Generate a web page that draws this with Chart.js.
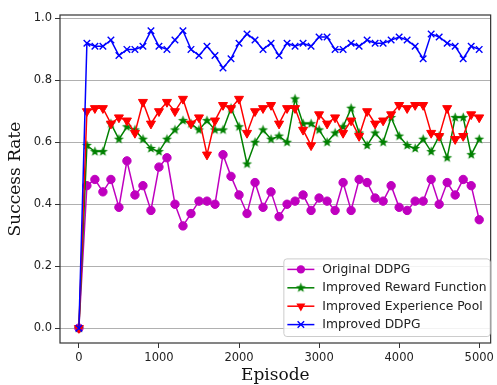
<!DOCTYPE html>
<html>
<head>
<meta charset="utf-8">
<script src="https://cdn.jsdelivr.net/npm/chart.js@4.4.1/dist/chart.umd.min.js"></script>
<style>
html, body { margin: 0; padding: 0; background: #fff; }
#wrap { width: 497px; height: 385px; }
</style>
</head>
<body>
<div id="wrap"><canvas id="SuccessChart" width="497" height="385"></canvas></div>
<script>
var episodes = [0, 100, 200, 300, 400, 500, 600, 700, 800, 900, 1000,
    1100, 1200, 1300, 1400, 1500, 1600, 1700, 1800, 1900, 2000,
    2100, 2200, 2300, 2400, 2500, 2600, 2700, 2800, 2900, 3000,
    3100, 3200, 3300, 3400, 3500, 3600, 3700, 3800, 3900, 4000,
    4100, 4200, 4300, 4400, 4500, 4600, 4700, 4800, 4900, 5000];

var originalDDPG = [0, 0.46, 0.48, 0.44, 0.48, 0.39, 0.54, 0.43, 0.46, 0.38, 0.52,
    0.55, 0.40, 0.33, 0.37, 0.41, 0.41, 0.40, 0.56, 0.49, 0.43,
    0.37, 0.47, 0.39, 0.44, 0.36, 0.40, 0.41, 0.43, 0.38, 0.42,
    0.41, 0.38, 0.47, 0.38, 0.48, 0.47, 0.42, 0.41, 0.46, 0.39,
    0.38, 0.41, 0.41, 0.48, 0.40, 0.47, 0.43, 0.48, 0.46, 0.35];

var improvedReward = [0, 0.59, 0.57, 0.57, 0.66, 0.61, 0.65, 0.64, 0.61, 0.58, 0.57,
    0.61, 0.64, 0.67, 0.66, 0.64, 0.67, 0.64, 0.64, 0.71, 0.65,
    0.53, 0.60, 0.64, 0.61, 0.62, 0.60, 0.74, 0.66, 0.66, 0.64,
    0.60, 0.63, 0.65, 0.71, 0.63, 0.59, 0.63, 0.60, 0.68, 0.62,
    0.59, 0.58, 0.61, 0.57, 0.62, 0.55, 0.68, 0.68, 0.56, 0.61];

var improvedPool = [0, 0.70, 0.71, 0.71, 0.66, 0.68, 0.67, 0.63, 0.73, 0.66, 0.70,
    0.73, 0.70, 0.74, 0.66, 0.68, 0.56, 0.67, 0.72, 0.71, 0.74,
    0.63, 0.70, 0.71, 0.72, 0.66, 0.71, 0.71, 0.64, 0.59, 0.69,
    0.66, 0.68, 0.63, 0.67, 0.62, 0.70, 0.66, 0.67, 0.69, 0.72,
    0.71, 0.72, 0.72, 0.63, 0.62, 0.71, 0.61, 0.62, 0.69, 0.68];

var improvedDDPG = [0, 0.92, 0.91, 0.91, 0.93, 0.88, 0.90, 0.90, 0.91, 0.96, 0.91,
    0.90, 0.93, 0.96, 0.90, 0.88, 0.91, 0.88, 0.84, 0.87, 0.92,
    0.95, 0.93, 0.90, 0.92, 0.88, 0.92, 0.91, 0.92, 0.91, 0.94,
    0.94, 0.90, 0.90, 0.92, 0.91, 0.93, 0.92, 0.92, 0.93, 0.94,
    0.93, 0.91, 0.87, 0.95, 0.94, 0.92, 0.91, 0.87, 0.91, 0.90];

var seriesNames = ['Original DDPG', 'Improved Reward Function', 'Improved Experience Pool', 'Improved DDPG'];
var xTicks = [0, 1000, 2000, 3000, 4000, 5000];
var yTicks = [0.0, 0.2, 0.4, 0.6, 0.8, 1.0];

// matplotlib style filled star marker
function makeStar(color, r) {
    var c = document.createElement('canvas');
    var s = Math.ceil(r * 2 + 2);
    c.width = s;
    c.height = s;
    var g = c.getContext('2d');
    g.beginPath();
    for (var i = 0; i < 10; i++) {
        var rad = i % 2 === 0 ? r : r * 0.42;
        var a = -Math.PI / 2 + i * Math.PI / 5;
        g.lineTo(s / 2 + rad * Math.cos(a), s / 2 + rad * Math.sin(a));
    }
    g.closePath();
    g.fillStyle = color;
    g.fill();
    return c;
}
var greenStar = makeStar('#008000', 5.2);

function toPoints(vals) {
    return vals.map(function (v, i) { return { x: episodes[i], y: v }; });
}

var styles = [
    { color: '#bf00bf', pointStyle: 'circle', radius: 4.2, rotation: 0 },
    { color: '#008000', pointStyle: greenStar, radius: 5, rotation: 0 },
    { color: '#ff0000', pointStyle: 'triangle', radius: 5.2, rotation: 180 },
    { color: '#0000ff', pointStyle: 'crossRot', radius: 4.6, rotation: 0 }
];
var allSeries = [originalDDPG, improvedReward, improvedPool, improvedDDPG];

var datasets = allSeries.map(function (vals, i) {
    var st = styles[i];
    return {
        label: seriesNames[i],
        data: toPoints(vals),
        borderColor: st.color,
        backgroundColor: st.color,
        borderWidth: 1.5,
        pointStyle: st.pointStyle,
        pointRadius: st.radius,
        pointRotation: st.rotation,
        pointBorderWidth: i === 3 ? 1.4 : 1,
        pointBackgroundColor: st.color,
        pointBorderColor: st.color,
        tension: 0,
        order: 4 - i
    };
});

function drawMarker(ctx, st, x, y) {
    ctx.save();
    ctx.fillStyle = st.color;
    ctx.strokeStyle = st.color;
    ctx.lineWidth = 1.4;
    var r = st.radius;
    if (st.pointStyle === 'circle') {
        ctx.beginPath();
        ctx.arc(x, y, r, 0, Math.PI * 2);
        ctx.fill();
    } else if (st.pointStyle === 'triangle') {
        var half = r * Math.sqrt(3) / 2;
        ctx.beginPath();
        ctx.moveTo(x - half, y - r / 2);
        ctx.lineTo(x + half, y - r / 2);
        ctx.lineTo(x, y + r);
        ctx.closePath();
        ctx.fill();
    } else if (st.pointStyle === 'crossRot') {
        var d = r * 0.707;
        ctx.beginPath();
        ctx.moveTo(x - d, y - d); ctx.lineTo(x + d, y + d);
        ctx.moveTo(x + d, y - d); ctx.lineTo(x - d, y + d);
        ctx.stroke();
    } else {
        ctx.drawImage(st.pointStyle, x - st.pointStyle.width / 2, y - st.pointStyle.height / 2);
    }
    ctx.restore();
}

var framePlugin = {
    id: 'frame',
    afterDatasetsDraw: function (chart) {
        var a = chart.chartArea, ctx = chart.ctx;
        ctx.save();
        ctx.strokeStyle = '#333';
        ctx.lineWidth = 1.2;
        ctx.strokeRect(a.left, a.top, a.right - a.left, a.bottom - a.top);
        ctx.restore();
    }
};

var legendPlugin = {
    id: 'insideLegend',
    afterDraw: function (chart) {
        var a = chart.chartArea, ctx = chart.ctx;
        ctx.save();
        ctx.font = '12.3px "DejaVu Sans"';
        var textW = 0;
        seriesNames.forEach(function (n) { textW = Math.max(textW, ctx.measureText(n).width); });
        var rowH = 18.4;
        var w = 39 + textW + 4;
        var h = rowH * 4 + 4;
        var x0 = a.right - w;
        var y0 = a.bottom - 7 - h;
        ctx.fillStyle = 'rgba(255,255,255,0.85)';
        ctx.strokeStyle = '#cccccc';
        ctx.lineWidth = 1;
        ctx.beginPath();
        ctx.roundRect(x0 + 0.5, y0 + 0.5, w - 1, h, 3);
        ctx.fill();
        ctx.stroke();
        ctx.textBaseline = 'middle';
        for (var i = 0; i < 4; i++) {
            var cy = y0 + 11 + i * rowH;
            var st = styles[i];
            ctx.strokeStyle = st.color;
            ctx.lineWidth = 1.5;
            ctx.beginPath();
            ctx.moveTo(x0 + 4, cy);
            ctx.lineTo(x0 + 31, cy);
            ctx.stroke();
            drawMarker(ctx, st, x0 + 17.5, cy);
            ctx.fillStyle = '#222';
            ctx.fillText(seriesNames[i], x0 + 39, cy + 0.5);
        }
        ctx.restore();
    }
};

var ctx = document.getElementById('SuccessChart').getContext('2d');
var SuccessChart = new Chart(ctx, {
    type: 'line',
    data: { datasets: datasets },
    options: {
        responsive: false,
        animation: false,
        events: [],
        layout: { padding: { left: 0, top: 15, right: 5, bottom: 0 } },
        plugins: {
            legend: { display: false },
            tooltip: { enabled: false }
        },
        scales: {
            x: {
                type: 'linear',
                min: -236,
                max: 5143,
                afterBuildTicks: function (scale) {
                    scale.ticks = xTicks.map(function (v) { return { value: v }; });
                },
                afterFit: function (scale) { scale.height = 42; },
                ticks: {
                    color: '#222',
                    font: { family: 'DejaVu Sans', size: 11.5 },
                    padding: 3,
                    maxRotation: 0,
                    callback: function (v) { return String(v); }
                },
                grid: { drawOnChartArea: false, tickLength: 5, tickColor: '#333', tickWidth: 1 },
                border: { display: false },
                title: {
                    display: true,
                    text: 'Episode',
                    color: '#111',
                    font: { family: 'DejaVu Serif', size: 17, lineHeight: 1 },
                    padding: { top: 0, bottom: 1 }
                }
            },
            y: {
                type: 'linear',
                min: -0.048,
                max: 1.011,
                afterBuildTicks: function (scale) {
                    scale.ticks = yTicks.map(function (v) { return { value: v }; });
                },
                afterFit: function (scale) { scale.width = 60; },
                ticks: {
                    color: '#222',
                    font: { family: 'DejaVu Sans', size: 11.5 },
                    padding: 3,
                    callback: function (v) { return v.toFixed(1); }
                },
                grid: { color: '#b0b0b0', lineWidth: 1, tickLength: 5, tickColor: '#333' },
                border: { display: false },
                title: {
                    display: true,
                    text: 'Success Rate',
                    color: '#111',
                    font: { family: 'DejaVu Serif', size: 17, lineHeight: 1 },
                    padding: { top: 7, bottom: 0 }
                }
            }
        }
    },
    plugins: [framePlugin, legendPlugin]
});
</script>
</body>
</html>
